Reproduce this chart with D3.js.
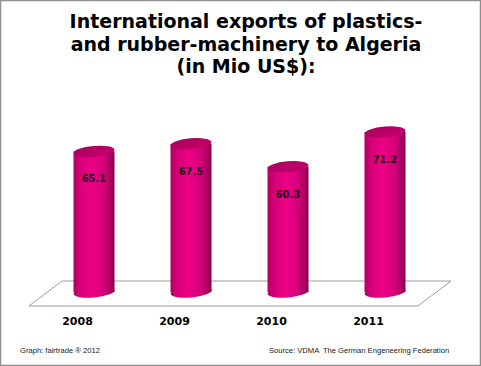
<!DOCTYPE html>
<html>
<head>
<meta charset="utf-8">
<script src="https://cdn.jsdelivr.net/npm/d3@7"></script>
<style>
  html, body { margin: 0; padding: 0; background: #fff; }
  svg { display: block; }
</style>
</head>
<body>
<div id="main"></div>
<script>
// data
var years = ['2008', '2009', '2010', '2011'];
var exportsMio = [65.1, 67.5, 60.3, 71.2];
var titleLines = ['International exports of plastics-', 'and rubber-machinery to Algeria', '(in Mio US$):'];
var footLeft = 'Graph: fairtrade \u00ae 2012';
var footRight = 'Source: VDMA  The German Engeneering Federation';

var W = 481, H = 366;
var base = 292;          // y of the cylinder bottoms
var cylW = 41, ry = 5.5; // cylinder size

var svg = d3.select('#main').append('svg')
    .attr('width', W)
    .attr('height', H);

// frame
svg.append('rect')
    .attr('x', 0.5).attr('y', 0.5)
    .attr('width', W - 1).attr('height', H - 1)
    .attr('fill', '#fff')
    .attr('stroke', '#8f8f8f')
    .attr('stroke-width', 1.5);

// gradients
var defs = svg.append('defs');
var bodyGrad = defs.append('linearGradient').attr('id', 'body')
    .attr('x1', '0%').attr('x2', '100%').attr('y1', '0%').attr('y2', '0%');
bodyGrad.append('stop').attr('offset', '0%').attr('stop-color', '#b3005f');
bodyGrad.append('stop').attr('offset', '18%').attr('stop-color', '#d8007a');
bodyGrad.append('stop').attr('offset', '45%').attr('stop-color', '#ec0284');
bodyGrad.append('stop').attr('offset', '75%').attr('stop-color', '#d4007a');
bodyGrad.append('stop').attr('offset', '100%').attr('stop-color', '#8c004b');

var topGrad = defs.append('linearGradient').attr('id', 'top')
    .attr('x1', '0%').attr('x2', '100%').attr('y1', '0%').attr('y2', '100%');
topGrad.append('stop').attr('offset', '0%').attr('stop-color', '#a8005d');
topGrad.append('stop').attr('offset', '100%').attr('stop-color', '#c9006f');

// scales
var x = d3.scalePoint()
    .domain(years)
    .range([45.5, 433.5])
    .padding(0.5);

var y = d3.scaleLinear()
    .domain([21, 80])
    .range([base, 104]);

var data = years.map(function (d, i) { return { year: d, value: exportsMio[i] }; });

// title
svg.append('g').selectAll('text')
    .data(titleLines)
    .enter().append('text')
    .attr('x', 246)
    .attr('y', function (d, i) { return 28 + i * 22.5; })
    .attr('text-anchor', 'middle')
    .style('font-family', 'DejaVu Sans, Verdana, sans-serif')
    .style('font-weight', 'bold')
    .style('font-size', '19px')
    .attr('fill', '#000')
    .text(function (d) { return d; });

// floor
var floorBack = 281, floorFront = 306;
svg.append('path')
    .attr('d', 'M62,' + floorBack + 'L451,' + floorBack + 'L418,' + floorFront + 'L29,' + floorFront + 'Z')
    .attr('fill', '#fff')
    .attr('stroke', '#9e9e9e')
    .attr('stroke-width', 1);

// cylinders
var cyl = svg.append('g').selectAll('g')
    .data(data)
    .enter().append('g');

cyl.append('ellipse')
    .attr('cx', function (d) { return x(d.year); })
    .attr('cy', base)
    .attr('rx', cylW / 2)
    .attr('ry', ry)
    .attr('transform', function (d) { return 'rotate(-5,' + x(d.year) + ',' + base + ')'; })
    .attr('fill', 'url(#body)');

cyl.append('rect')
    .attr('x', function (d) { return x(d.year) - cylW / 2; })
    .attr('y', function (d) { return y(d.value); })
    .attr('width', cylW)
    .attr('height', function (d) { return base - y(d.value); })
    .attr('fill', 'url(#body)');

cyl.append('ellipse')
    .attr('cx', function (d) { return x(d.year); })
    .attr('cy', function (d) { return y(d.value); })
    .attr('rx', cylW / 2)
    .attr('ry', ry)
    .attr('transform', function (d) { return 'rotate(-5,' + x(d.year) + ',' + y(d.value) + ')'; })
    .attr('fill', 'url(#top)');

// value labels
cyl.append('text')
    .attr('x', function (d) { return x(d.year); })
    .attr('y', function (d) { return y(d.value) + 28; })
    .attr('text-anchor', 'middle')
    .attr('dominant-baseline', 'middle')
    .style('font-family', 'DejaVu Sans, Verdana, sans-serif')
    .style('font-weight', 'bold')
    .style('font-size', '10px')
    .attr('fill', '#2a0816')
    .text(function (d) { return d.value.toFixed(1); });

// year axis (shifted to the front edge of the floor)
var xAxis = d3.axisBottom(x).tickSize(0).tickPadding(0);
var axisG = svg.append('g')
    .attr('transform', 'translate(-17,' + 317 + ')')
    .call(xAxis);
axisG.select('.domain').remove();
axisG.selectAll('text')
    .style('font-family', 'DejaVu Sans, Verdana, sans-serif')
    .style('font-weight', 'bold')
    .style('font-size', '11px')
    .attr('fill', '#000');

// footer
svg.append('text')
    .attr('x', 20).attr('y', 353)
    .style('font-family', 'Liberation Sans, Arial, sans-serif')
    .style('font-size', '7.6px')
    .attr('fill', '#1a1a1a')
    .text(footLeft);

svg.append('text')
    .attr('x', 269).attr('y', 353)
    .style('font-family', 'Liberation Sans, Arial, sans-serif')
    .style('font-size', '7.6px')
    .style('white-space', 'pre')
    .attr('fill', '#1a1a1a')
    .text(footRight);
</script>
</body>
</html>
